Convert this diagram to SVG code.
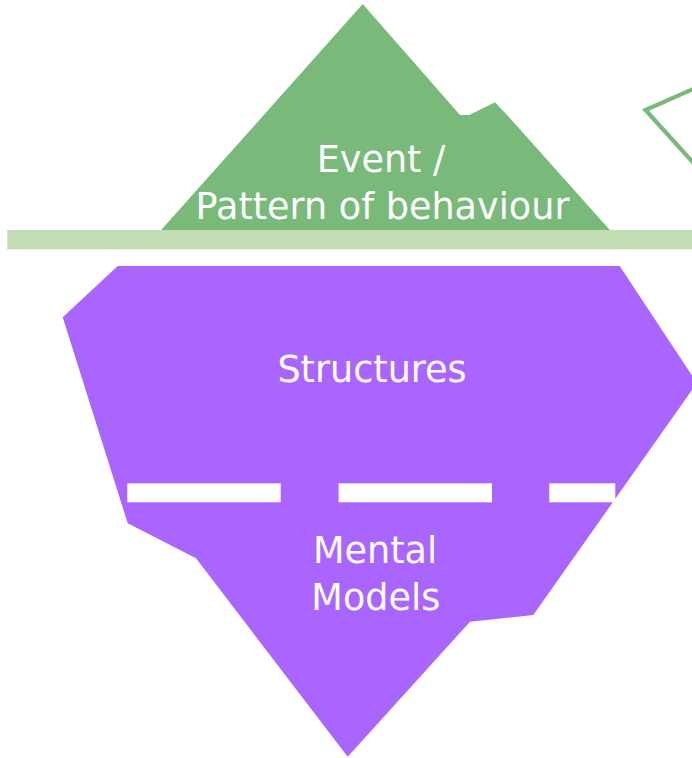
<svg xmlns="http://www.w3.org/2000/svg" width="692" height="758" viewBox="0 0 692 758">
  <style>
    .lbl { font-family: "DejaVu Sans", Verdana, sans-serif; font-size: 36.6px; fill: #FFFFFF; text-anchor: middle; }
    .green { fill: #79B97A; }
    .purple { fill: #AB65FF; }
    .dash { fill: #FFFFFF; }
  </style>
  <rect width="692" height="758" fill="#FFFFFF"/>
  <g id="outline-shape">
    <polyline points="694,88.6 645.5,110 694,163.5" fill="none" stroke="#79B97A" stroke-width="4.2" stroke-linejoin="miter"/>
  </g>
  <g id="event-node">
    <polygon class="green" points="160.7,230.5 362.7,4 460,115 469.3,115 495,102.3 507,115 610.3,230.5"/>
    <text class="lbl" x="381" y="171.7">Event /</text>
    <text class="lbl" x="382.5" y="219.3">Pattern of behaviour</text>
  </g>
  <g id="waterline">
    <rect x="7.3" y="230" width="684.7" height="19.3" fill="#C3DDB5"/>
  </g>
  <g id="structures-node">
    <polygon class="purple" points="117.7,266 619.7,266 697,383 533.3,615 470,621.7 347.7,756.7 196,558.3 127.7,523.3 62.7,317.3"/>
    <text class="lbl" x="372" y="381.7">Structures</text>
  </g>
  <g id="divider">
    <rect class="dash" x="127.3" y="483.3" width="153.4" height="19"/>
    <rect class="dash" x="338.6" y="483.3" width="153.4" height="19"/>
    <rect class="dash" x="549.3" y="483.3" width="66" height="19"/>
  </g>
  <g id="mental-models-node">
    <text class="lbl" x="375" y="562.7">Mental</text>
    <text class="lbl" x="375.8" y="610">Models</text>
  </g>
  <g id="connectors"></g>
</svg>
